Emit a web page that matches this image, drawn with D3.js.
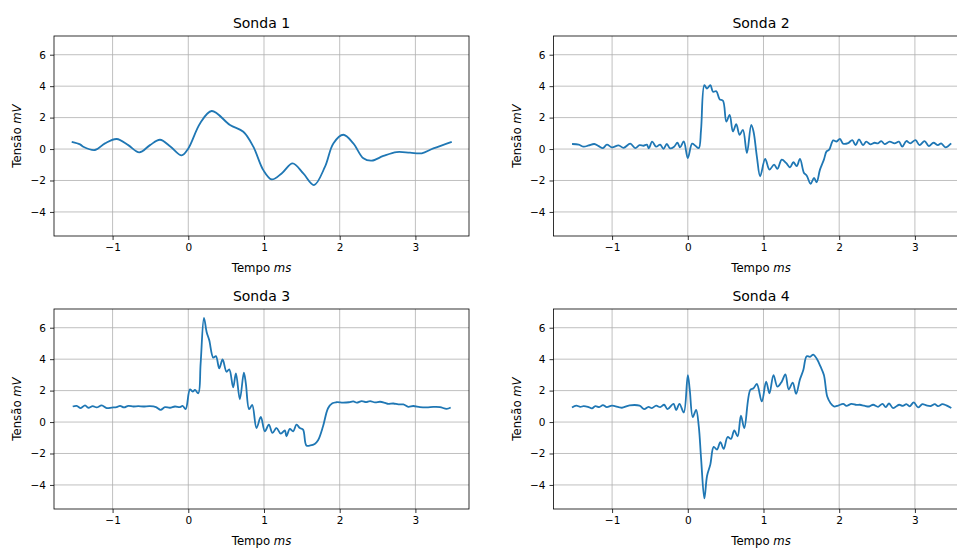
<!DOCTYPE html>
<html>
<head>
<meta charset="utf-8">
<script src="https://cdn.jsdelivr.net/npm/d3@7/dist/d3.min.js"></script>
<style>
  html, body { margin: 0; padding: 0; background: #fff; }
  svg { display: block; font-family: "DejaVu Sans", sans-serif; }
</style>
</head>
<body>
<svg id="fig" width="957" height="548"></svg>
<script>
// Probe recordings: time (ms) and voltage (mV)
const sonda1T = [-1.54, -1.43, -1.387, -1.233, -1.10, -0.946, -0.793, -0.647, -0.506, -0.374, -0.233, -0.088, 0.0, 0.155, 0.309, 0.551, 0.727, 0.859, 0.991, 1.101, 1.233, 1.378, 1.519, 1.66, 1.806, 1.916, 2.048, 2.18, 2.313, 2.423, 2.577, 2.753, 2.929, 3.083, 3.237, 3.48];
const sonda1V = [0.46, 0.30, 0.15, -0.06, 0.36, 0.64, 0.25, -0.21, 0.25, 0.59, 0.15, -0.40, 0.04, 1.63, 2.42, 1.53, 1.10, 0.15, -1.34, -1.93, -1.55, -0.91, -1.55, -2.29, -1.12, 0.36, 0.91, 0.36, -0.59, -0.74, -0.44, -0.19, -0.23, -0.27, 0.04, 0.46];

const sonda2T = [-1.529, -1.44, -1.375, -1.309, -1.235, -1.178, -1.121, -1.068, -1.002, -0.914, -0.848, -0.76, -0.694, -0.637, -0.585, -0.541, -0.515, -0.471, -0.418, -0.365, -0.321, -0.277, -0.233, -0.181, -0.137, -0.102, -0.053, 0.0, 0.057, 0.10, 0.145, 0.175, 0.219, 0.254, 0.298, 0.333, 0.377, 0.421, 0.465, 0.509, 0.553, 0.596, 0.64, 0.684, 0.728, 0.781, 0.838, 0.868, 0.912, 0.956, 1.022, 1.079, 1.14, 1.184, 1.241, 1.298, 1.351, 1.395, 1.439, 1.482, 1.535, 1.57, 1.623, 1.667, 1.702, 1.746, 1.798, 1.833, 1.868, 1.921, 1.965, 2.009, 2.053, 2.118, 2.173, 2.217, 2.261, 2.314, 2.358, 2.411, 2.468, 2.512, 2.556, 2.60, 2.666, 2.732, 2.789, 2.833, 2.886, 2.939, 3.008, 3.061, 3.127, 3.184, 3.246, 3.303, 3.347, 3.404, 3.479];
const sonda2V = [0.32, 0.28, 0.15, 0.23, 0.32, 0.19, 0.06, 0.28, 0.11, 0.23, 0.08, 0.34, 0.06, 0.25, 0.21, 0.28, 0.04, 0.47, 0.15, 0.28, 0.02, 0.32, 0.04, 0.15, 0.40, 0.11, 0.48, -0.57, 0.34, 0.21, 0.06, 1.22, 4.06, 3.85, 4.06, 3.64, 3.68, 3.16, 3.07, 1.75, 2.17, 1.12, 1.58, 0.91, 1.22, -0.25, 1.54, 1.12, -0.46, -1.73, -0.63, -1.31, -0.99, -1.26, -0.67, -0.88, -1.16, -0.84, -1.09, -0.63, -1.52, -1.68, -2.21, -1.83, -2.11, -1.31, -0.67, -0.15, -0.04, 0.55, 0.48, 0.65, 0.34, 0.38, 0.57, 0.25, 0.61, 0.25, 0.47, 0.30, 0.40, 0.36, 0.51, 0.32, 0.47, 0.36, 0.47, 0.15, 0.51, 0.36, 0.57, 0.25, 0.51, 0.19, 0.40, 0.25, 0.36, 0.11, 0.36];

const sonda3T = [-1.527, -1.474, -1.421, -1.364, -1.32, -1.263, -1.21, -1.144, -1.078, -1.01, -0.946, -0.902, -0.849, -0.792, -0.726, -0.66, -0.594, -0.506, -0.427, -0.365, -0.308, -0.242, -0.176, -0.11, -0.075, -0.035, 0.022, 0.057, 0.088, 0.132, 0.163, 0.207, 0.242, 0.277, 0.33, 0.365, 0.409, 0.453, 0.505, 0.541, 0.593, 0.629, 0.681, 0.734, 0.76, 0.804, 0.844, 0.901, 0.958, 1.011, 1.064, 1.112, 1.165, 1.222, 1.275, 1.297, 1.341, 1.385, 1.429, 1.473, 1.516, 1.56, 1.613, 1.67, 1.714, 1.78, 1.846, 1.903, 1.956, 2.044, 2.123, 2.18, 2.225, 2.291, 2.348, 2.401, 2.467, 2.533, 2.6, 2.642, 2.709, 2.775, 2.84, 2.906, 2.972, 3.06, 3.149, 3.237, 3.325, 3.413, 3.466];
const sonda3V = [0.99, 1.03, 0.89, 1.06, 0.91, 1.01, 0.93, 1.06, 0.89, 0.92, 0.95, 1.03, 0.93, 1.03, 0.99, 1.01, 0.99, 1.01, 0.95, 0.78, 0.95, 0.91, 0.99, 0.95, 1.03, 0.82, 2.08, 1.94, 2.04, 1.83, 3.73, 6.63, 5.73, 5.2, 4.1, 4.19, 3.41, 3.98, 3.2, 3.35, 2.21, 3.09, 1.45, 3.14, 2.46, 0.82, 1.09, -0.38, 0.32, -0.59, -0.17, -0.69, -0.38, -0.74, -0.53, -0.91, -0.44, -0.59, -0.17, -0.38, -0.48, -1.49, -1.49, -1.39, -1.16, -0.27, 0.88, 1.2, 1.26, 1.24, 1.26, 1.31, 1.23, 1.33, 1.27, 1.33, 1.25, 1.29, 1.22, 1.16, 1.18, 1.12, 1.12, 0.97, 1.02, 0.95, 0.93, 0.96, 0.95, 0.84, 0.93];

const sonda4T = [-1.53, -1.473, -1.42, -1.376, -1.32, -1.266, -1.222, -1.17, -1.121, -1.07, -1.002, -0.914, -0.87, -0.769, -0.637, -0.576, -0.52, -0.475, -0.418, -0.365, -0.312, -0.268, -0.189, -0.154, -0.11, -0.053, 0.0, 0.026, 0.066, 0.11, 0.145, 0.175, 0.219, 0.254, 0.298, 0.342, 0.386, 0.43, 0.474, 0.526, 0.57, 0.614, 0.658, 0.702, 0.746, 0.825, 0.868, 0.912, 0.978, 1.035, 1.079, 1.132, 1.184, 1.241, 1.289, 1.333, 1.386, 1.43, 1.482, 1.526, 1.57, 1.614, 1.658, 1.702, 1.754, 1.798, 1.842, 1.886, 1.93, 1.987, 2.053, 2.096, 2.162, 2.228, 2.273, 2.33, 2.396, 2.448, 2.514, 2.571, 2.615, 2.659, 2.712, 2.791, 2.84, 2.888, 2.93, 2.985, 3.042, 3.099, 3.152, 3.21, 3.262, 3.305, 3.363, 3.415, 3.481];
const sonda4V = [0.93, 1.04, 0.97, 1.01, 0.97, 0.87, 1.01, 0.95, 1.08, 0.95, 1.04, 0.95, 0.91, 1.06, 1.04, 0.82, 0.97, 0.89, 1.04, 0.95, 1.1, 0.82, 1.16, 0.76, 1.16, 0.61, 2.99, 2.04, 0.32, 0.78, -0.27, -2.27, -4.86, -3.43, -2.69, -1.58, -1.75, -1.28, -1.71, -0.95, -1.07, -0.53, -0.91, 0.4, -0.38, 2.04, 2.15, 2.42, 1.31, 2.57, 1.83, 2.99, 2.25, 2.57, 3.03, 2.08, 2.51, 1.79, 2.72, 3.31, 4.19, 4.15, 4.29, 4.04, 3.52, 2.99, 1.62, 1.2, 0.99, 1.05, 1.16, 1.03, 1.16, 1.09, 1.1, 1.04, 0.99, 1.1, 0.97, 1.16, 0.95, 1.18, 0.89, 1.1, 1.03, 1.14, 1.0, 1.25, 0.93, 1.14, 1.06, 1.02, 1.14, 1.01, 1.14, 1.06, 0.89];

const panelTitles = ["Sonda 1", "Sonda 2", "Sonda 3", "Sonda 4"];
const xTicks = [-1, 0, 1, 2, 3];
const yTicks = [-4, -2, 0, 2, 4, 6];
const xDomain = [-1.774, 3.708];
const yDomain = [-5.53, 7.19];

const series = [
  { t: sonda1T, v: sonda1V },
  { t: sonda2T, v: sonda2V },
  { t: sonda3T, v: sonda3V },
  { t: sonda4T, v: sonda4V }
];

// Subplot frames (2 x 2 grid)
const panelW = 415, panelH = 200;
const panelPos = [
  { x: 54, y: 36 },
  { x: 553.5, y: 36 },
  { x: 54, y: 309 },
  { x: 553.5, y: 309 }
];

const fmt = d => (d < 0 ? "\u2212" + Math.abs(d) : String(d));
const svg = d3.select("#fig");
const lineColor = "#1f77b4";
const gridColor = "#b0b0b0";

series.forEach((s, i) => {
  const p = panelPos[i];
  const g = svg.append("g").attr("transform", `translate(${p.x},${p.y})`);
  const x = d3.scaleLinear().domain(xDomain).range([0, panelW]);
  const y = d3.scaleLinear().domain(yDomain).range([panelH, 0]);

  // grid
  g.append("g").selectAll("line").data(xTicks).join("line")
    .attr("x1", d => x(d)).attr("x2", d => x(d))
    .attr("y1", 0).attr("y2", panelH)
    .attr("stroke", gridColor).attr("stroke-width", 0.8);
  g.append("g").selectAll("line").data(yTicks).join("line")
    .attr("x1", 0).attr("x2", panelW)
    .attr("y1", d => y(d)).attr("y2", d => y(d))
    .attr("stroke", gridColor).attr("stroke-width", 0.8);

  // signal trace
  const pts = s.t.map((t, k) => [t, s.v[k]]);
  g.append("path")
    .datum(pts)
    .attr("fill", "none")
    .attr("stroke", lineColor)
    .attr("stroke-width", 1.8)
    .attr("stroke-linejoin", "round")
    .attr("d", d3.line().x(d => x(d[0])).y(d => y(d[1])).curve(d3.curveCatmullRom.alpha(0.5)));

  // axes
  const xAxis = d3.axisBottom(x).tickValues(xTicks).tickFormat(fmt).tickSizeOuter(0).tickSize(4).tickPadding(4);
  const yAxis = d3.axisLeft(y).tickValues(yTicks).tickFormat(fmt).tickSizeOuter(0).tickSize(4).tickPadding(4);
  const gx = g.append("g").attr("transform", `translate(0,${panelH})`).call(xAxis);
  const gy = g.append("g").call(yAxis);
  [gx, gy].forEach(a => {
    a.select(".domain").remove();
    a.selectAll("line").attr("stroke", "#000").attr("stroke-width", 0.8);
    a.selectAll("text").attr("fill", "#000").style("font-size", "10.5px").style("font-family", "DejaVu Sans");
  });

  // frame
  g.append("rect").attr("x", 0).attr("y", 0).attr("width", panelW).attr("height", panelH)
    .attr("fill", "none").attr("stroke", "#000").attr("stroke-width", 0.8);

  // title
  g.append("text").attr("x", panelW / 2).attr("y", -8)
    .attr("text-anchor", "middle").style("font-size", "14px").attr("fill", "#000")
    .text(panelTitles[i]);

  // axis labels
  const xl = g.append("text").attr("x", panelW / 2).attr("y", panelH + 36)
    .attr("text-anchor", "middle").style("font-size", "11.7px").attr("fill", "#000");
  xl.append("tspan").text("Tempo ");
  xl.append("tspan").style("font-style", "italic").text("ms");

  const yl = g.append("text")
    .attr("transform", `translate(-33,${panelH / 2}) rotate(-90)`)
    .attr("text-anchor", "middle").style("font-size", "11.7px").attr("fill", "#000");
  yl.append("tspan").text("Tens\u00e3o ");
  yl.append("tspan").style("font-style", "italic").text("mV");
});
</script>
</body>
</html>
